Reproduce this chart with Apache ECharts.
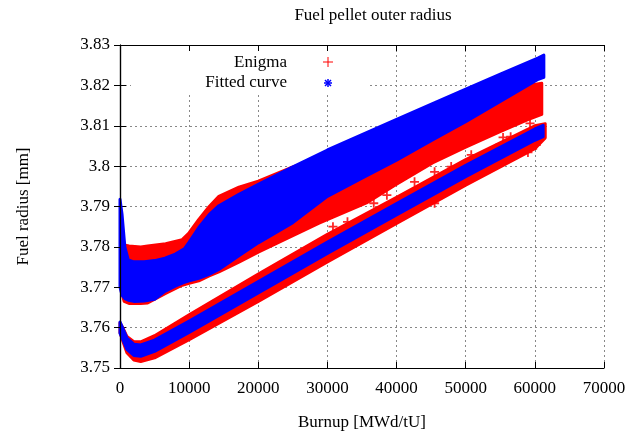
<!DOCTYPE html>
<html>
<head>
<meta charset="utf-8">
<script src="https://cdn.jsdelivr.net/npm/echarts@6/dist/echarts.min.js"></script>
<style>
  html, body { margin: 0; padding: 0; background: #fff; }
  #chart { width: 636px; height: 437px; }
</style>
</head>
<body>
<div id="chart"></div>
<script>
// envelopes of the point clouds (burnup in MWd/tU, radius in mm)
var enigmaHighB   = [200, 600, 1300, 3000, 4000, 6600, 9000, 10000, 11400, 12900, 14300, 17200, 20000, 25000, 28800, 35650, 40000, 45200, 50000, 54900, 59000, 61000];
var enigmaHighTop = [3.7860, 3.7805, 3.7802, 3.7800, 3.7802, 3.7808, 3.7818, 3.7835, 3.7868, 3.7900, 3.7925, 3.7948, 3.7963, 3.7998, 3.8020, 3.8050, 3.8060, 3.8090, 3.8130, 3.8170, 3.8200, 3.8205];
var enigmaHighBot = [3.7690, 3.7665, 3.7660, 3.7660, 3.7661, 3.7685, 3.7705, 3.7710, 3.7716, 3.7728, 3.7738, 3.7762, 3.7787, 3.7828, 3.7859, 3.7909, 3.7955, 3.8008, 3.8047, 3.8085, 3.8115, 3.8128];

var fittedHighB   = [0, 300, 700, 1200, 2000, 3500, 5000, 6500, 8000, 9300, 10000, 11400, 12900, 14300, 17200, 20000, 25000, 30000, 35000, 40000, 45200, 50000, 55000, 60500, 61300];
var fittedHighTop = [3.7918, 3.7880, 3.7800, 3.7768, 3.7763, 3.7763, 3.7766, 3.7772, 3.7782, 3.7795, 3.7812, 3.7848, 3.7880, 3.7902, 3.7930, 3.7955, 3.7998, 3.8040, 3.8078, 3.8116, 3.8155, 3.8191, 3.8228, 3.8268, 3.8275];
var fittedHighBot = [3.7700, 3.7680, 3.7672, 3.7668, 3.7665, 3.7666, 3.7670, 3.7690, 3.7703, 3.7712, 3.7716, 3.7722, 3.7732, 3.7744, 3.7778, 3.7810, 3.7860, 3.7925, 3.7970, 3.8015, 3.8065, 3.8110, 3.8160, 3.8215, 3.8220];

var enigmaLowB   = [0, 400, 1000, 2000, 3000, 5000, 10000, 20000, 30000, 40000, 50000, 60000, 61500];
var enigmaLowTop = [3.7612, 3.7600, 3.7578, 3.7565, 3.7565, 3.7580, 3.7632, 3.7733, 3.7831, 3.7923, 3.8016, 3.8100, 3.8105];
var enigmaLowBot = [3.7588, 3.7567, 3.7538, 3.7520, 3.7516, 3.7525, 3.7570, 3.7665, 3.7763, 3.7858, 3.7953, 3.8043, 3.8070];

var fittedLowB   = [0, 400, 1000, 2000, 3000, 5000, 10000, 20000, 30000, 40000, 50000, 60000, 61200];
var fittedLowTop = [3.7614, 3.7599, 3.7574, 3.7559, 3.7557, 3.7569, 3.7616, 3.7714, 3.7812, 3.7907, 3.8002, 3.8092, 3.8101];
var fittedLowBot = [3.7586, 3.7571, 3.7546, 3.7531, 3.7529, 3.7541, 3.7588, 3.7686, 3.7784, 3.7879, 3.7974, 3.8064, 3.8073];

// isolated Enigma points standing out of the lower cloud
var enigmaStrayB = [30800, 32900, 36700, 38600, 42600, 43100, 45500, 45500, 47900, 50100, 50800, 54400, 55400, 56500, 59000, 59300, 60200];
var enigmaStrayR = [3.7850, 3.7862, 3.7908, 3.7928, 3.7961, 3.7896, 3.7986, 3.7908, 3.7999, 3.7974, 3.8028, 3.8044, 3.8071, 3.8073, 3.8034, 3.8106, 3.8052];

var serif = '"Liberation Serif", "DejaVu Serif", serif';
var red = '#ff0000', blue = '#0000ff';

function band(name, b, top, bot, color, z) {
    return {
        type: 'custom',
        name: name,
        z: z,
        silent: true,
        clip: false,
        data: b.map(function (x, i) { return [x, top[i], bot[i]]; }),
        encode: { x: 0, y: [1, 2] },
        renderItem: function (params, api) {
            if (params.dataIndex !== 0) return null;
            var upper = b.map(function (x, i) { return api.coord([x, top[i]]); });
            var lower = b.map(function (x, i) { return api.coord([x, bot[i]]); }).reverse();
            return {
                type: 'polygon',
                shape: { points: upper.concat(lower) },
                style: { fill: color, stroke: color, lineWidth: 3, lineJoin: 'round' }
            };
        }
    };
}

var tickStyle = { show: true, inside: true, length: 6, lineStyle: { color: '#000', width: 1 } };
var lineStyle = { show: true, lineStyle: { color: '#000', width: 1.2 } };

var chart = echarts.init(document.getElementById('chart'));
chart.setOption({
    animation: false,
    backgroundColor: '#fff',
    title: {
        text: 'Fuel pellet outer radius',
        left: 368, top: 2, textAlign: 'center',
        textStyle: { fontFamily: serif, fontSize: 17, fontWeight: 'normal', color: '#000' }
    },
    grid: { left: 120, right: 32, top: 45, bottom: 69 },
    xAxis: [{
        type: 'value', min: 0, max: 70000, interval: 10000,
        name: 'Burnup [MWd/tU]', nameLocation: 'middle', nameGap: 46,
        nameTextStyle: { fontFamily: serif, fontSize: 17, color: '#000' },
        axisLine: lineStyle, axisTick: tickStyle,
        axisLabel: {
            fontFamily: serif, fontSize: 17, color: '#000', margin: 12,
            formatter: function (v) { return String(v); }
        },
        splitLine: { show: true, lineStyle: { color: '#888', type: [2, 3], width: 1 } }
    }, {
        type: 'value', position: 'top', min: 0, max: 70000, interval: 10000, z: 5,
        axisLine: lineStyle, axisTick: tickStyle, axisLabel: { show: false }, splitLine: { show: false }
    }],
    yAxis: [{
        type: 'value', min: 3.75, max: 3.83, interval: 0.01,
        name: 'Fuel radius [mm]', nameLocation: 'middle', nameGap: 88,
        nameTextStyle: { fontFamily: serif, fontSize: 17, color: '#000' },
        axisLine: lineStyle, axisTick: tickStyle,
        axisLabel: {
            fontFamily: serif, fontSize: 17, color: '#000', margin: 10,
            formatter: function (v) { return String(parseFloat(v.toFixed(2))); }
        },
        splitLine: { show: true, lineStyle: { color: '#888', type: [2, 3], width: 1 } }
    }, {
        type: 'value', position: 'right', min: 3.75, max: 3.83, interval: 0.01, z: 5,
        axisLine: lineStyle, axisTick: tickStyle, axisLabel: { show: false }, splitLine: { show: false }
    }],
    graphic: [
        // key box (covers the grid lines like gnuplot's key)
        { type: 'rect', z: 1, shape: { x: 131, y: 47, width: 238, height: 47 }, style: { fill: '#fff' } },
        { type: 'text', z: 2, style: { x: 287, y: 63, text: 'Enigma', font: '17px ' + serif, fill: '#000', textAlign: 'right', textVerticalAlign: 'middle' } },
        { type: 'text', z: 2, style: { x: 287, y: 83, text: 'Fitted curve', font: '17px ' + serif, fill: '#000', textAlign: 'right', textVerticalAlign: 'middle' } },
        { type: 'line', z: 2, shape: { x1: 323, y1: 62, x2: 333, y2: 62 }, style: { stroke: red, lineWidth: 1 } },
        { type: 'line', z: 2, shape: { x1: 328, y1: 57, x2: 328, y2: 67 }, style: { stroke: red, lineWidth: 1 } },
        { type: 'line', z: 2, shape: { x1: 324, y1: 83, x2: 332, y2: 83 }, style: { stroke: blue, lineWidth: 1.5 } },
        { type: 'line', z: 2, shape: { x1: 328, y1: 79, x2: 328, y2: 87 }, style: { stroke: blue, lineWidth: 1.5 } },
        { type: 'line', z: 2, shape: { x1: 325, y1: 80, x2: 331, y2: 86 }, style: { stroke: blue, lineWidth: 1.5 } },
        { type: 'line', z: 2, shape: { x1: 325, y1: 86, x2: 331, y2: 80 }, style: { stroke: blue, lineWidth: 1.5 } }
    ],
    series: [
        band('Enigma', enigmaHighB, enigmaHighTop, enigmaHighBot, red, 2),
        band('Enigma', enigmaLowB, enigmaLowTop, enigmaLowBot, red, 2),
        {
            type: 'scatter', name: 'Enigma', z: 2, silent: true,
            symbol: 'path://M4,0 L6,0 L6,4 L10,4 L10,6 L6,6 L6,10 L4,10 L4,6 L0,6 L0,4 L4,4 Z',
            symbolSize: 9,
            itemStyle: { color: red, opacity: 0.85 },
            data: enigmaStrayB.map(function (x, i) { return [x, enigmaStrayR[i]]; })
        },
        band('Fitted curve', fittedHighB, fittedHighTop, fittedHighBot, blue, 3),
        band('Fitted curve', fittedLowB, fittedLowTop, fittedLowBot, blue, 3)
    ]
});
</script>
</body>
</html>
